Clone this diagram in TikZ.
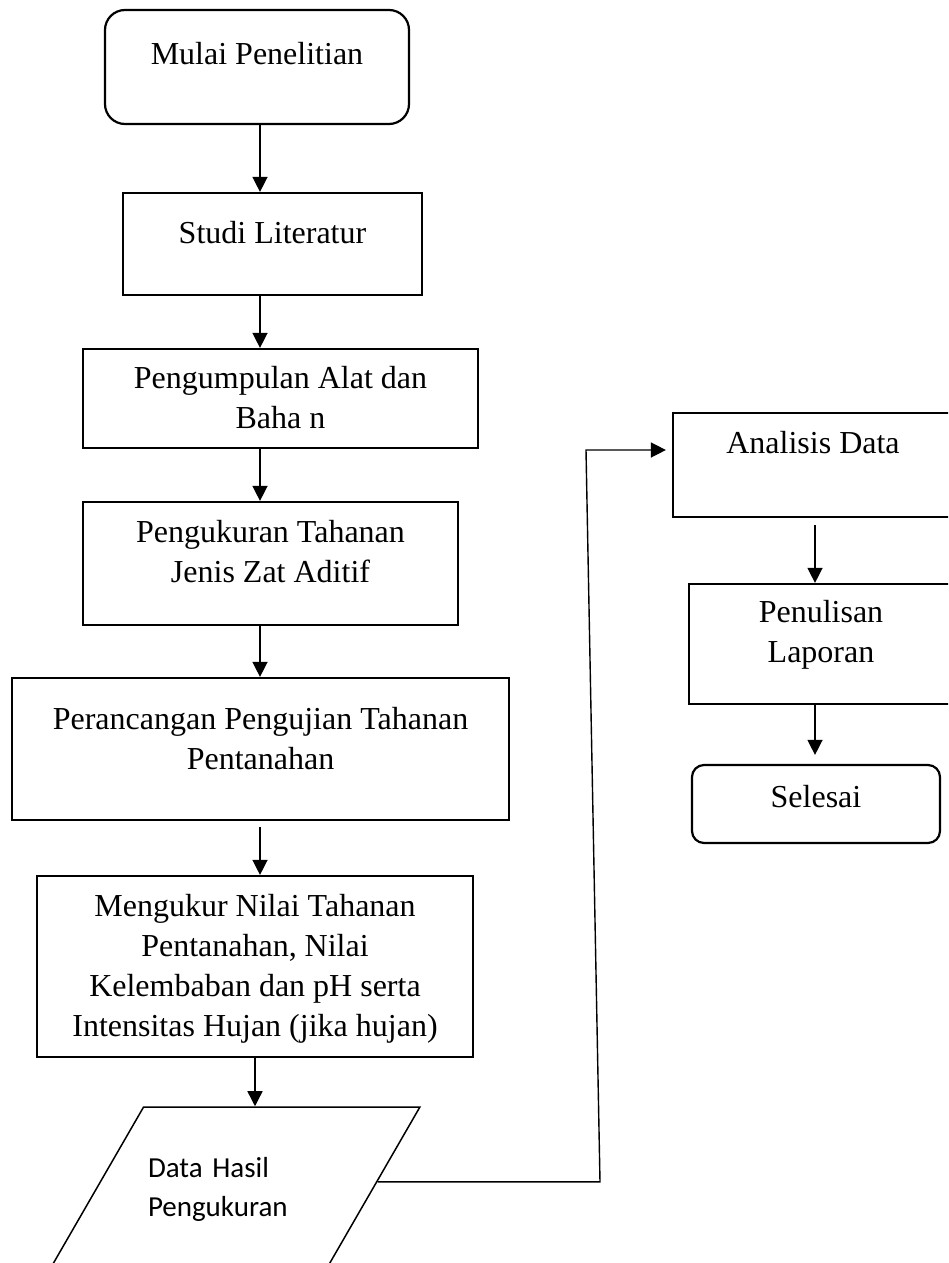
\documentclass[tikz,border=0pt]{standalone}
\usepackage{fontspec}
\setmainfont{Liberation Serif}
\newfontfamily\datafont{Carlito}
\usetikzlibrary{shapes.geometric,arrows.meta,calc}

\begin{document}
\begin{tikzpicture}[x=1pt,y=-1pt,
        proc/.style={draw=black,line width=2.2pt,rectangle,inner sep=0pt,align=center,font=\fontsize{32}{40}\selectfont},
        term/.style={proc,rounded corners=#1},
        tb/.style 2 args={text height=#1pt,text depth=#2pt},
        arr/.style={draw=black,line width=1.4pt,-{Triangle[length=15pt,width=15pt]}}]
        \useasboundingbox (0,0) rectangle (948,1263);
        \clip (0,0) rectangle (948,1263);
        \coordinate (axisL) at (260,0);
        \coordinate (axisR) at (815,0);
        \node [term=20pt,minimum width=304pt,tb={55}{59}] (mulai) at (257,67) {Mulai Penelitian};
        \node [proc,minimum width=299pt,tb={50}{52}] (studi) at (272.5,244) {Studi Literatur};
        \node [proc,minimum width=395pt,tb={79}{20}] (kumpul) at (280.5,398.5) {Pengumpulan Alat dan\\Baha n};
        \node [proc,minimum width=375pt,tb={80}{43}] (ukur) at (270.5,563.5) {Pengukuran Tahanan\\Jenis Zat Aditif};
        \node [proc,minimum width=497pt,tb={91}{51}] (rancang) at (260.5,749) {Perancangan Pengujian Tahanan\\Pentanahan};
        \node [proc,minimum width=436pt,tb={160}{21}] (mengukur) at (255,966.5) {Mengukur Nilai Tahanan\\Pentanahan, Nilai\\Kelembaban dan pH serta\\Intensitas Hujan (jika hujan)};
        \node [trapezium,draw=black,line width=1.5pt,trapezium left angle=60,trapezium right angle=120,
               trapezium stretches body,minimum width=371pt,minimum height=164pt,inner sep=0pt,
               text width=172.8pt,align=left,tb={70}{94},font=\datafont\fontsize{29}{39}\selectfont] (data) at (234.4,1189) {Data Hasil\\Pengukuran};
        \node [proc,minimum width=280pt,tb={40}{64}] (analisis) at (813,465) {Analisis Data};
        \node [proc,minimum width=264pt,tb={78}{42}] (tulis) at (821,644) {Penulisan\\Laporan};
        \node [term=12pt,minimum width=248pt,tb={42}{36}] (selesai) at (816,804) {Selesai};
        \draw [arr] (mulai.south -| axisL) -- (studi.north -| axisL);
        \draw [arr] (studi.south -| axisL) -- (kumpul.north -| axisL);
        \draw [arr] (kumpul.south -| axisL) -- (ukur.north -| axisL);
        \draw [arr] (ukur.south -| axisL) -- (rancang.north -| axisL);
        \draw [arr,shorten <=6pt] (rancang.south -| axisL) -- (mengukur.north -| axisL);
        \draw [arr] (mengukur.south) -- (mengukur.south |- data.north);
        \coordinate (dataout) at ($(data.top right corner)!0.457!(data.bottom right corner)$);
        \coordinate (bendA) at (dataout -| 600,0);
        \coordinate (bendB) at (586,450);
        \draw [arr,shorten >=6pt] (dataout) -- (bendA) -- (bendB) -- (bendB -| analisis.west);
        \draw [arr,shorten <=7pt] (analisis.south -| axisR) -- (tulis.north -| axisR);
        \draw [arr,shorten >=9pt] (tulis.south -| axisR) -- (selesai.north -| axisR);
        \end{tikzpicture}
\end{document}
